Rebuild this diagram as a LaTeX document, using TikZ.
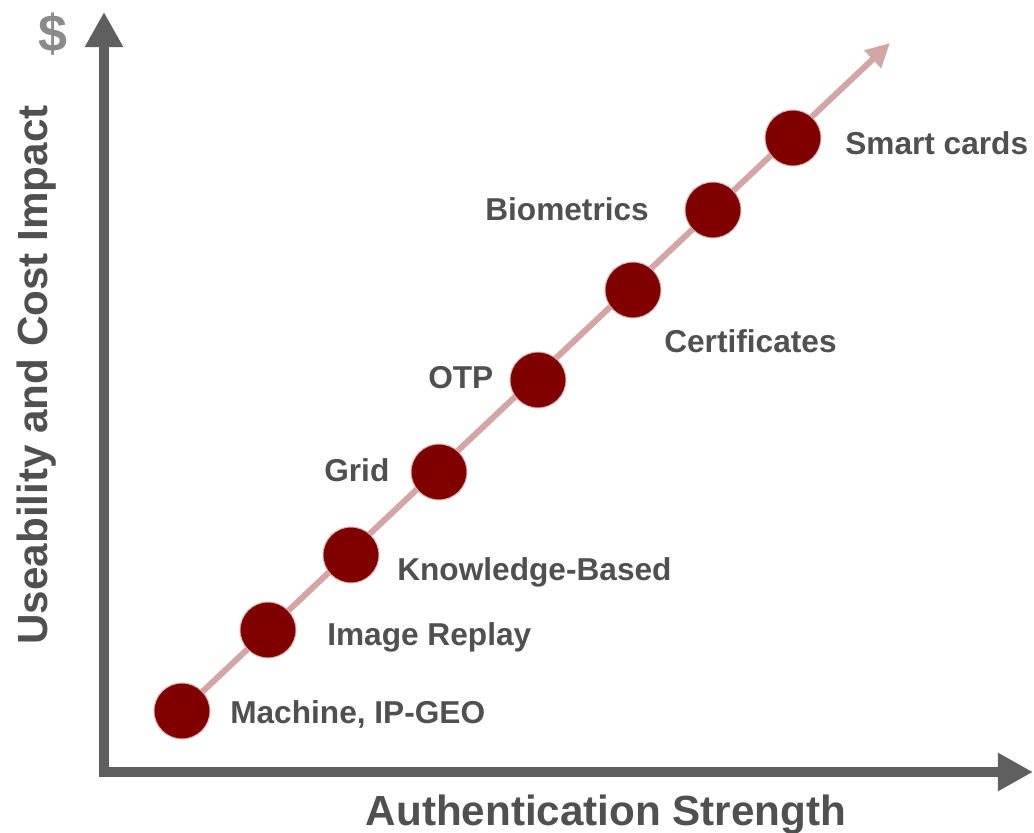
\documentclass[tikz,border=0pt]{standalone}
\usepackage{fontspec}
\setmainfont{Liberation Sans}
\usepackage{tikz}
\usetikzlibrary{arrows.meta}
\usetikzlibrary{backgrounds}
\usetikzlibrary{positioning}

\definecolor{axisgray}{HTML}{5F5F5F}
\definecolor{txtgray}{HTML}{505050}
\definecolor{dollargray}{HTML}{8A8A8A}
\definecolor{dotred}{HTML}{800000}
\definecolor{dotrim}{HTML}{DDB0B0}
\definecolor{linepink}{HTML}{D4A5A5}

\tikzset{
  dot/.style={circle, fill=dotred, draw=dotrim, line width=0.7pt, minimum size=39.8pt, inner sep=0pt},
  lbl/.style={anchor=base west, inner sep=0pt, text=txtgray, font=\fontsize{22.5}{27}\selectfont\bfseries},
  axlbl/.style={inner sep=0pt, text=txtgray, font=\fontsize{30}{36}\selectfont\bfseries},
}

\begin{document}
\begin{tikzpicture}[x=0.025cm, y=-0.025cm]
\useasboundingbox (0,0) rectangle (1034,833);

% axes
\coordinate (ytip) at (104,12);
\coordinate (corner) at (104,772);
\coordinate (xtip) at (1033,772);
\draw[axisgray, line width=7.8pt, line join=miter, {Triangle[length=25pt, width=25.6pt]}-{Triangle[length=25pt, width=25.6pt]}] (ytip) -- (corner) -- (xtip);

\node[axlbl, anchor=base, rotate=90] (ylabel) at (48,375) {Useability and Cost Impact};
\node[axlbl, text=dollargray, font=\fontsize{37}{40}\selectfont\bfseries] (dollar) at (53,34) {\$};
\node[axlbl, anchor=base] (xlabel) at (606,825) {Authentication Strength};

% methods, weakest to strongest
\node[dot] (machine) at (182,711) {};
\node[dot] (replay) at (268,630) {};
\node[dot] (knowledge) at (351,555) {};
\node[dot] (grid) at (439,472) {};
\node[dot] (otp) at (538,380) {};
\node[dot] (certs) at (633,290) {};
\node[dot] (bio) at (713,210) {};
\node[dot] (smart) at (793,138) {};

\node[lbl] at (230,723) {Machine, IP-GEO};
\node[lbl] at (327,645) {Image Replay};
\node[lbl] at (397,580) {Knowledge-Based};
\node[lbl] at (324,482) {Grid};
\node[lbl] at (428,389) {OTP};
\node[lbl] at (664,353) {Certificates};
\node[lbl] at (485,221) {Biometrics};
\node[lbl] at (845,155) {Smart cards};

\begin{pgfonlayer}{background}
\coordinate (trend) at (890,43);
\draw[linepink, line width=4.3pt, -{Triangle[length=17pt, width=16.5pt]}] (machine.center) -- (trend);
\end{pgfonlayer}
\end{tikzpicture}
\end{document}
